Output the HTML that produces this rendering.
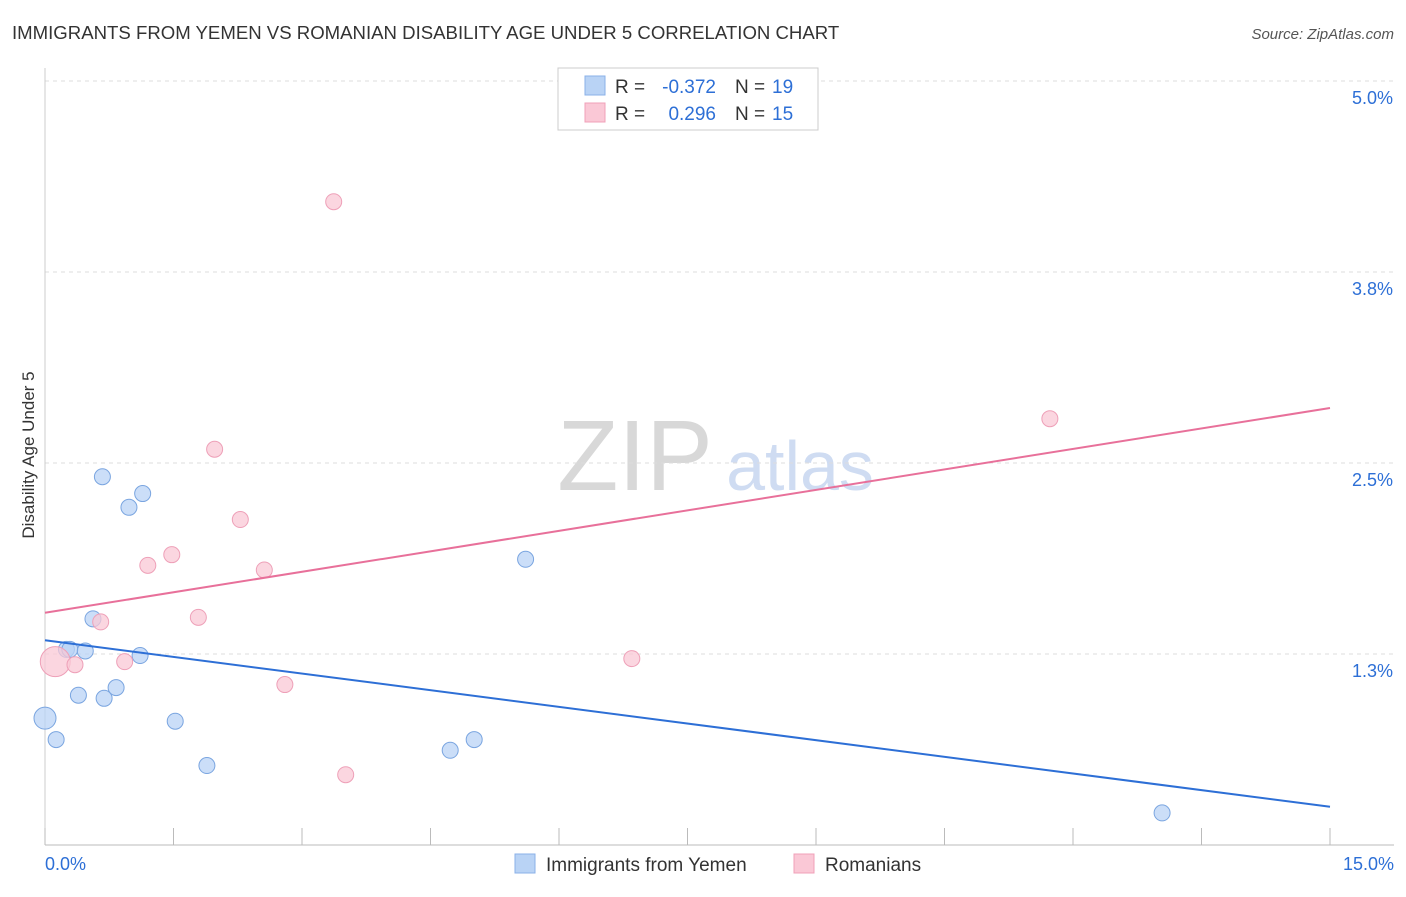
<!DOCTYPE html>
<html><head><meta charset="utf-8"><style>
body{margin:0;background:#fff;font-family:"Liberation Sans",sans-serif}
svg text{font-family:"Liberation Sans",sans-serif}
</style></head><body>
<svg id="c" width="1406" height="892">
<text x="12" y="39" font-size="18.6" fill="#333">IMMIGRANTS FROM YEMEN VS ROMANIAN DISABILITY AGE UNDER 5 CORRELATION CHART</text>
<text x="1394" y="39" font-size="15" fill="#555" font-style="italic" text-anchor="end">Source: ZipAtlas.com</text>
<text x="34" y="455" font-size="17" fill="#333" text-anchor="middle" transform="rotate(-90 34 455)">Disability Age Under 5</text>
<text x="635" y="490" font-size="100" fill="#d8d8d8" font-family="Liberation Serif" text-anchor="middle">ZIP</text>
<text x="800" y="490" font-size="70" fill="#cfdcf2" text-anchor="middle">atlas</text>
<g id="grid"></g><g id="marks"></g>
<g>
<rect x="558" y="68" width="260" height="62" fill="#fff" stroke="#ccc"/>
<rect x="585" y="76" width="20" height="19" fill="#b9d3f5" stroke="#8ab0e8"/>
<rect x="585" y="103" width="20" height="19" fill="#fac8d6" stroke="#f0a0b8"/>
<text x="615" y="93" font-size="19" fill="#333">R =</text>
<text x="716" y="93" font-size="19" fill="#2d6fd6" text-anchor="end">-0.372</text>
<text x="735" y="93" font-size="19" fill="#333">N =</text>
<text x="772" y="93" font-size="19" fill="#2d6fd6">19</text>
<text x="615" y="120" font-size="19" fill="#333">R =</text>
<text x="716" y="120" font-size="19" fill="#2d6fd6" text-anchor="end">0.296</text>
<text x="735" y="120" font-size="19" fill="#333">N =</text>
<text x="772" y="120" font-size="19" fill="#2d6fd6">15</text>
</g>
<g>
<rect x="515" y="854" width="20" height="19" fill="#b9d3f5" stroke="#8ab0e8"/>
<text x="546" y="871" font-size="19" fill="#333">Immigrants from Yemen</text>
<rect x="794" y="854" width="20" height="19" fill="#fac8d6" stroke="#f0a0b8"/>
<text x="825" y="871" font-size="19" fill="#333">Romanians</text>
</g>
</svg>
<script>
const yTicks=[5.0,3.75,2.5,1.25];
const yTickLabels=["5.0%","3.8%","2.5%","1.3%"];
const xTickLabels=["0.0%","15.0%"];
const blueX=[0,0.13,0.25,0.29,0.47,0.39,0.56,0.67,0.69,0.83,0.98,1.14,1.11,1.52,1.89,4.73,5.01,5.61,13.04];
const blueY=[0.83,0.69,1.28,1.28,1.27,0.98,1.48,2.41,0.96,1.03,2.21,2.30,1.24,0.81,0.52,0.62,0.69,1.87,0.21];
const pinkX=[0.12,0.35,0.65,0.93,1.20,1.48,1.79,1.98,2.28,2.56,2.80,3.37,3.51,6.85,11.73];
const pinkY=[1.20,1.18,1.46,1.20,1.83,1.90,1.49,2.59,2.13,1.80,1.05,4.21,0.46,1.22,2.79];
const blueTrend=[1.34,0.25];
const pinkTrend=[1.52,2.86];
const X=v=>45+v*(1285/15), Y=v=>845-v*152.8;
const NS="http://www.w3.org/2000/svg";
const mk=(p,t,a)=>{const e=document.createElementNS(NS,t);for(const k in a)e.setAttribute(k,a[k]);p.appendChild(e);return e;};
const g=document.getElementById('grid'), m=document.getElementById('marks');
yTicks.forEach((v,i)=>{
 const l=mk(g,'line',{x1:45,x2:1394,y1:Y(v),y2:Y(v),stroke:'#ddd','stroke-dasharray':'4,4'});
 
 
 const t=mk(g,'text',{x:1393,y:Y(v)+23,'font-size':18,fill:'#2d6fd6','text-anchor':'end'});
 t.textContent=yTickLabels[i];
 
 
});
const ax=mk(g,'line',{x1:45,x2:1394,y1:845,y2:845,stroke:'#bbb'});


const ay=mk(g,'line',{x1:45,x2:45,y1:68,y2:845,stroke:'#ccc'});


for(let i=0;i<=10;i++){
 const t=mk(g,'line',{x1:X(i*1.5),x2:X(i*1.5),y1:828,y2:845,stroke:'#bbb'});
 
 
}
[[0,'start',45],[15,'end',1394]].forEach((d,i)=>{
 const t=mk(g,'text',{x:d[2],y:870,'font-size':18,fill:'#2d6fd6','text-anchor':d[1]});
 t.textContent=xTickLabels[i];
 
 
});
blueX.forEach((x,i)=>{
 const c=mk(m,'circle',{cx:X(x),cy:Y(blueY[i]),r:i==0?11:8,fill:'#b9d3f5','fill-opacity':0.75,stroke:'#7aa5e0'});
 
 
});
pinkX.forEach((x,i)=>{
 const c=mk(m,'circle',{cx:X(x),cy:Y(pinkY[i]),r:i==0?15:8,fill:'#fac8d6','fill-opacity':0.75,stroke:'#eea0b8'});
 
 
});
const bl=mk(m,'line',{x1:X(0),y1:Y(blueTrend[0]),x2:X(15),y2:Y(blueTrend[1]),stroke:'#2d6fd6','stroke-width':2});


const pl=mk(m,'line',{x1:X(0),y1:Y(pinkTrend[0]),x2:X(15),y2:Y(pinkTrend[1]),stroke:'#e8709a','stroke-width':2});


</script>
</body></html>
